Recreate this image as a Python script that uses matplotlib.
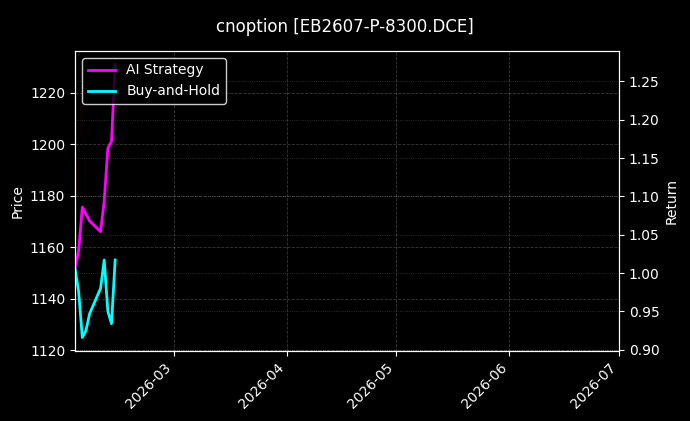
import numpy as np
import pandas as pd
import matplotlib
matplotlib.use("Agg")
import matplotlib.pyplot as plt
import matplotlib.dates as mdates

title = "cnoption [EB2607-P-8300.DCE]"
dates = pd.to_datetime(["2026-02-02", "2026-02-03", "2026-02-04", "2026-02-05", "2026-02-06",
                        "2026-02-09", "2026-02-10", "2026-02-11", "2026-02-12", "2026-02-13"])
price = [1150, 1189, 1231, 1170, 1152, 1125, 1140, 1157, 1135, 1160]
ai_return = [1.006, 1.029, 1.086, 1.077, 1.068, 1.054, 1.094, 1.163, 1.172, 1.272]
bh_return = [1.006, 0.976, 0.916, 0.925, 0.947, 0.980, 1.017, 0.950, 0.934, 1.017]
x_end = pd.Timestamp("2026-07-01")

plt.style.use("dark_background")
fig = plt.figure(figsize=(6.9, 4.21), dpi=100)
ax = fig.add_axes([0.1087, 0.166, 0.7883, 0.713])
ax2 = ax.twinx()

# price is drawn almost invisible, it only sets the left scale
ax.plot(dates, price, color="red", alpha=0.05, lw=1)
ax.set_ylabel("Price")
ax.grid(True, linestyle="--", lw=0.6, alpha=0.22)

ax2.plot(dates, ai_return, color="#ff00ff", lw=2, label="AI Strategy")
ax2.plot(dates, bh_return, color="#00ffff", lw=2, label="Buy-and-Hold")
ax2.set_ylabel("Return")
ax2.grid(True, linestyle=":", lw=0.6, alpha=0.22)

ax.set_xlim(dates[0], x_end)
ax.xaxis.set_major_locator(mdates.MonthLocator())
ax.xaxis.set_major_formatter(mdates.DateFormatter("%Y-%m"))
plt.setp(ax.get_xticklabels(), rotation=45, ha="right")

ax2.legend(loc="upper left", facecolor="black", edgecolor="white", framealpha=0.8)
fig.suptitle(title, fontsize=12, y=0.958)

fig.savefig("out.png", dpi=100, facecolor="black")
